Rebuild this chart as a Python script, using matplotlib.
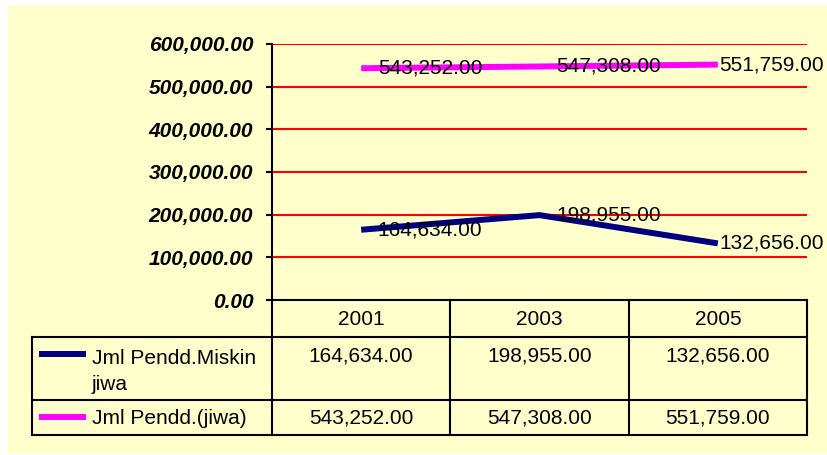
import matplotlib.pyplot as plt
from matplotlib.lines import Line2D
from matplotlib.patches import Rectangle
from matplotlib.ticker import FuncFormatter

# Data
years = ['2001', '2003', '2005']
miskin = [164634, 198955, 132656]
pendd = [543252, 547308, 551759]
series_names = ['Jml Pendd.Miskin\njiwa', 'Jml Pendd.(jiwa)']
series_colors = ['#000080', '#FF00FF']

W, H = 828, 455
FS = 15
plt.rcParams['font.family'] = ['Liberation Sans', 'DejaVu Sans']
fig = plt.figure(figsize=(W / 100, H / 100), dpi=100)
fig.patch.set_facecolor('white')

# full-figure helper axes in pixel coords (background + data table)
bg = fig.add_axes([0, 0, 1, 1])
bg.set_xlim(0, W)
bg.set_ylim(H, 0)
bg.axis('off')
bg.add_patch(Rectangle((8, 5), W - 8, 449, facecolor='#FFFFCC', edgecolor='none', zorder=0))

# plot area
x0, x1, y0, y1 = 272, 807, 300, 44
ax = fig.add_axes([x0 / W, 1 - y0 / H, (x1 - x0) / W, (y0 - y1) / H])
ax.set_facecolor('none')
ax.set_xlim(-0.5, 2.5)
ax.set_ylim(0, 600000)
ax.set_yticks(range(0, 600001, 100000))
ax.yaxis.set_major_formatter(FuncFormatter(lambda v, p: f'{v:,.2f}'))
for v in range(100000, 600001, 100000):
    ax.axhline(v, color='#FF0000', lw=1.5, zorder=1)
ax.set_xticks([])
for s in ['top', 'right', 'bottom']:
    ax.spines[s].set_visible(False)
ax.spines['left'].set_linewidth(1.5)
ax.tick_params(axis='y', length=4.5, width=1.5, pad=9, labelsize=FS)
for lab in ax.get_yticklabels():
    lab.set_fontweight('bold')
    lab.set_fontstyle('italic')

xs = range(len(years))
label_dx = [12, 12, 1]
for vals, col in zip([miskin, pendd], series_colors):
    ax.plot(xs, vals, color=col, lw=4.3, solid_capstyle='butt', zorder=3)
    for i, v in enumerate(vals):
        ax.annotate(f'{v:,.2f}', (i, v), xytext=(label_dx[i], 0), textcoords='offset points',
                    ha='left', va='center', fontsize=FS, zorder=4, annotation_clip=False)

# data table
lw = 1.5
col_w = (x1 - x0) / len(years)
col_edges = [x0 + i * col_w for i in range(len(years) + 1)]
tl, rows_y = 32, [300, 337, 400, 435]
bg.plot([x0, x1], [rows_y[0], rows_y[0]], color='black', lw=lw)
for yy in rows_y[1:]:
    bg.plot([tl, x1], [yy, yy], color='black', lw=lw)
bg.plot([tl, tl], [rows_y[1], rows_y[-1]], color='black', lw=lw)
for xx in col_edges:
    bg.plot([xx, xx], [rows_y[0], rows_y[-1]], color='black', lw=lw)

for i, yr in enumerate(years):
    cx = x0 + (i + 0.5) * col_w
    bg.text(cx, 325, yr, ha='center', va='baseline', fontsize=FS)
    bg.text(cx, 362, f'{miskin[i]:,.2f}', ha='center', va='baseline', fontsize=FS)
    bg.text(cx, 424, f'{pendd[i]:,.2f}', ha='center', va='baseline', fontsize=FS)

row_base = [390, 424]
row_line = [354, 417]
for name, col, yb, yl in zip(series_names, series_colors, row_base, row_line):
    bg.add_line(Line2D([39, 86], [yl, yl], color=col, lw=4.3, solid_capstyle='butt'))
    bg.text(92, yb, name, ha='left', va='baseline', fontsize=FS, linespacing=1.5)

fig.savefig('out.png', dpi=100)
